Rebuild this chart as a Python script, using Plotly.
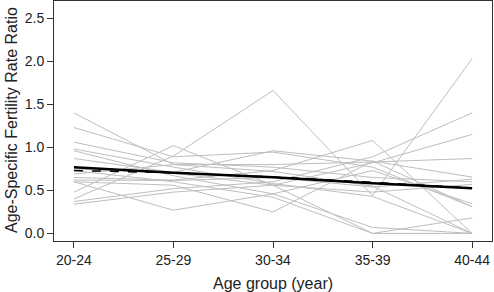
import plotly.graph_objects as go

age_groups = ["20-24", "25-29", "30-34", "35-39", "40-44"]

country_ratios = [
    [1.40, 0.80, 0.72, 0.55, 0.00],
    [1.23, 0.89, 0.945, 0.77, 0.31],
    [1.06, 0.82, 0.77, 0.65, 0.60],
    [0.98, 0.77, 0.58, 0.43, 0.00],
    [0.96, 0.67, 0.46, 0.07, 0.00],
    [0.87, 0.71, 0.96, 0.84, 0.655],
    [0.69, 0.80, 0.80, 0.83, 0.87],
    [0.65, 0.62, 0.73, 1.08, 0.00],
    [0.60, 0.27, 0.46, 0.73, 0.345],
    [0.60, 0.56, 0.25, 0.84, 0.31],
    [0.48, 1.02, 0.56, 0.00, 0.00],
    [0.40, 0.90, 1.66, 0.44, 2.03],
    [0.37, 0.52, 0.60, 0.89, 1.40],
    [0.34, 0.48, 0.56, 0.82, 1.15],
    [0.73, 0.60, 0.42, 0.00, 0.18],
    [0.62, 0.615, 0.65, 0.54, 0.63],
    [0.75, 0.70, 0.56, 0.48, 0.57],
]

mean_solid = [0.77, 0.704, 0.654, 0.584, 0.526]
mean_dashed = [0.731, 0.705, 0.656, 0.590, 0.530]

x_title = "Age group (year)"
y_title = "Age-Specific Fertility Rate Ratio"

x_idx = list(range(len(age_groups)))

fig = go.Figure()
for row in country_ratios:
    fig.add_trace(go.Scatter(x=x_idx, y=row, mode="lines",
                             line=dict(color="#BEBEBE", width=1),
                             showlegend=False, hoverinfo="skip"))
fig.add_trace(go.Scatter(x=x_idx, y=mean_solid, mode="lines",
                         line=dict(color="black", width=2.5),
                         showlegend=False))
fig.add_trace(go.Scatter(x=x_idx, y=mean_dashed, mode="lines",
                         line=dict(color="black", width=1.5, dash="dash"),
                         showlegend=False))

font = "Liberation Sans, Arial, sans-serif"
L, R, T, B = 54, 2, 1, 51
W, H = 494, 292
pw, ph = W - L - R, H - T - B

fig.update_layout(
    width=W, height=H,
    margin=dict(l=L, r=R, t=T, b=B, autoexpand=False),
    paper_bgcolor="white", plot_bgcolor="white",
    font=dict(family=font, size=14, color="#222"),
    xaxis=dict(
        range=[-0.2, 4.2], tickmode="array", tickvals=x_idx, ticktext=age_groups,
        showgrid=False, zeroline=False, showline=True, mirror=True,
        linecolor="#333", linewidth=1, ticks="outside", ticklen=6,
        tickcolor="#333", tickfont=dict(size=14), automargin=False,
    ),
    yaxis=dict(
        range=[-0.088, 2.70], tickmode="array",
        tickvals=[0, 0.5, 1.0, 1.5, 2.0, 2.5],
        ticktext=["0.0", "0.5", "1.0", "1.5", "2.0", "2.5"],
        showgrid=False, zeroline=False, showline=True, mirror=True,
        linecolor="#333", linewidth=1, ticks="outside", ticklen=6,
        tickcolor="#333", tickfont=dict(size=14), automargin=False,
    ),
    annotations=[
        dict(text=x_title, xref="paper", yref="paper",
             x=(273 - L) / pw, y=(T + ph - 283) / ph,
             xanchor="center", yanchor="middle", showarrow=False,
             font=dict(size=16, family=font, color="#222")),
        dict(text=y_title, xref="paper", yref="paper",
             x=(11 - L) / pw, y=(T + ph - 120) / ph, textangle=-90,
             xanchor="center", yanchor="middle", showarrow=False,
             font=dict(size=16, family=font, color="#222")),
    ],
)

fig.write_html("out.html", config={"displayModeBar": False},
               post_script="document.body.style.margin='0';document.body.style.overflow='hidden';")
